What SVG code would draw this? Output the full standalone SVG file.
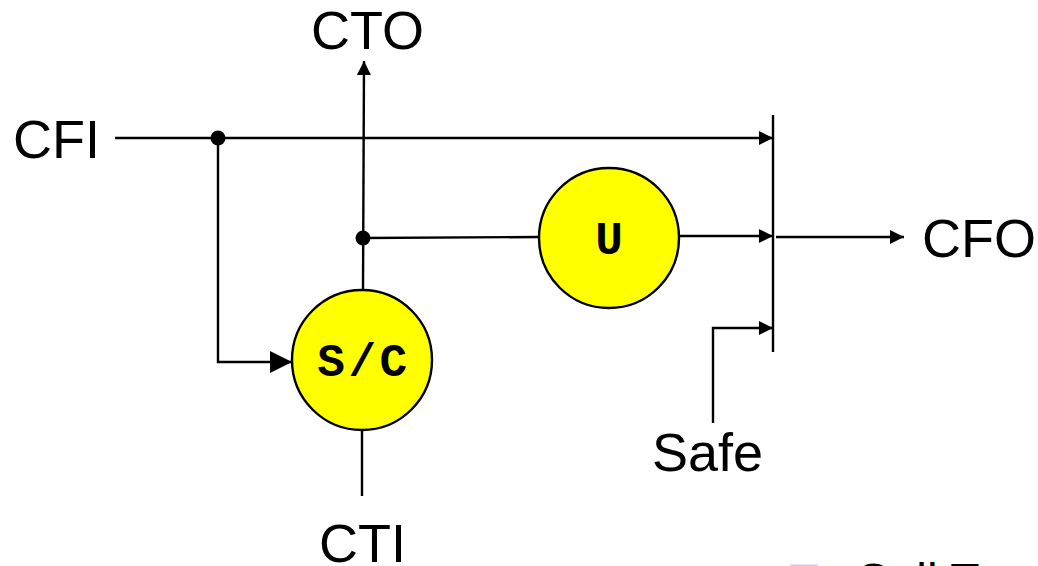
<svg xmlns="http://www.w3.org/2000/svg" width="1038" height="566" viewBox="0 0 1038 566">
<style>
.l{font-family:"Liberation Sans",Arial,sans-serif;font-size:54px;fill:#000}
.b{font-family:"Liberation Sans",Arial,sans-serif;font-size:48px;fill:#000}
.m{font-family:"Liberation Mono","Courier New",monospace;font-size:46px;font-weight:bold;fill:#000;text-anchor:middle}
.c{fill:none;stroke:#000;stroke-width:2.4}
.n{fill:#ff0;stroke:#000;stroke-width:2.4}
</style>
<defs>
<marker id="a" markerUnits="userSpaceOnUse" markerWidth="14" markerHeight="14" refX="14" refY="7" orient="auto"><path d="M0 0L14 7L0 14z" fill="#000"/></marker>
<marker id="b" markerUnits="userSpaceOnUse" markerWidth="22" markerHeight="22" refX="22" refY="11" orient="auto"><path d="M0 0L22 11L0 22z" fill="#000"/></marker>
</defs>
<rect width="1038" height="566" fill="#fff"/>
<g id="connectors">
<path class="c" d="M115 138H773" marker-end="url(#a)"/>
<path class="c" d="M218 138V362H292" marker-end="url(#b)"/>
<path class="c" d="M363 290L364 61" marker-end="url(#a)"/>
<path class="c" d="M363 238L539 237"/>
<path class="c" d="M679 236H773" marker-end="url(#a)"/>
<path class="c" d="M773 115V352"/>
<path class="c" d="M776 237H904" marker-end="url(#a)"/>
<path class="c" d="M713 423V328H773" marker-end="url(#a)"/>
<path class="c" d="M362 430V496"/>
<circle cx="218" cy="138" r="7.5" fill="#000"/>
<circle cx="363" cy="238" r="7.5" fill="#000"/>
</g>
<g id="node-sc"><circle class="n" cx="362" cy="360" r="70"/><text class="m" x="364" y="376" letter-spacing="3.5">S/C</text></g>
<g id="node-u"><circle class="n" cx="609" cy="238" r="70"/><text class="m" x="609" y="254">U</text></g>
<g id="label-cto"><text class="l" x="311" y="49">CTO</text></g>
<g id="label-cfi"><text class="l" x="13" y="158">CFI</text></g>
<g id="label-cfo"><text class="l" x="922" y="257">CFO</text></g>
<g id="label-safe"><text class="l" x="652" y="471">Safe</text></g>
<g id="label-cti"><text class="l" x="319" y="562">CTI</text></g>
<g id="label-bottom"><rect x="790" y="564.5" width="28" height="4" fill="#d8c8ec"/><text class="b" x="855" y="597">Cell T</text></g>
</svg>
